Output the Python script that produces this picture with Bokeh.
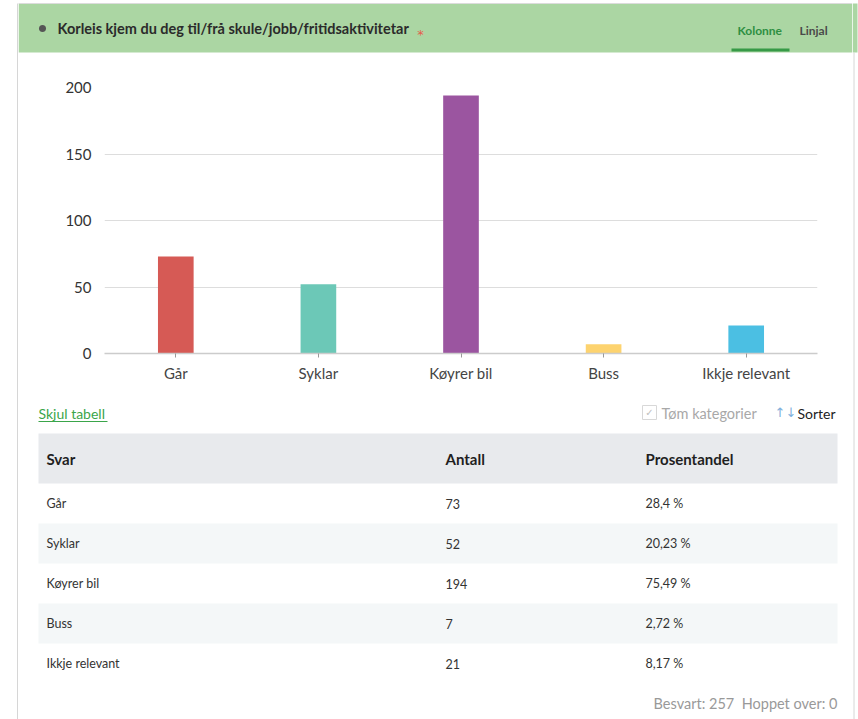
from bokeh.plotting import figure
from bokeh.layouts import row, column
from bokeh.models import Range1d, FactorRange, ColumnDataSource, FixedTicker
from bokeh.core.properties import value
from bokeh.embed import file_html
from bokeh.resources import INLINE

# ---- data ----
title = "Korleis kjem du deg til/frå skule/jobb/fritidsaktivitetar"
categories = ["Går", "Syklar", "Køyrer bil", "Buss", "Ikkje relevant"]
counts = [73, 52, 194, 7, 21]
percent_labels = ["28,4 %", "20,23 %", "75,49 %", "2,72 %", "8,17 %"]
bar_colors = ["#D65A55", "#6CC8B7", "#9B55A0", "#FDD36F", "#4BBFE3"]
y_ticks = [0, 50, 100, 150, 200]
table_headers = ["Svar", "Antall", "Prosentandel"]
answered = 257
skipped = 0

FONT = value("Lato")
GREEN_BG = "#ABD6A3"
BORDER = "#d6d6d6"


def blank(width, height, x_range, y_range):
    p = figure(width=width, height=height, x_range=x_range, y_range=y_range,
               output_backend="svg", toolbar_location=None, min_border=0)
    p.axis.visible = False
    p.grid.visible = False
    p.outline_line_color = None
    p.background_fill_color = "white"
    p.border_fill_color = "white"
    return p


# ---- left border strip ----
strip_l = blank(18, 719, Range1d(0, 18), Range1d(719, 0))
strip_l.segment(x0=[17], y0=[3], x1=[17], y1=[719], line_color=BORDER, line_width=1)

# ---- right border strip ----
strip_r = blank(6, 719, Range1d(852, 858), Range1d(719, 0))
strip_r.quad(left=[852], right=[857], top=[3], bottom=[52], fill_color=GREEN_BG, line_color=None)
strip_r.segment(x0=[853.5], y0=[52], x1=[853.5], y1=[719], line_color=BORDER, line_width=1)

# ---- header ----
hdr = blank(834, 53, Range1d(18, 852), Range1d(53, 0))
hdr.quad(left=[18], right=[852], top=[3], bottom=[52], fill_color=GREEN_BG, line_color=None)
hdr.segment(x0=[18], y0=[3], x1=[852], y1=[3], line_color="#dcdcdc", line_width=1)
hdr.scatter(x=[42], y=[28], size=7, marker="circle", fill_color="#555555", line_color=None)
hdr.text(x=[57], y=[28], text=[title], text_font=FONT, text_font_style="bold",
         text_font_size="14.5px", text_color="#2b2b2b", text_baseline="middle")
hdr.text(x=[420], y=[34], text=["*"], text_font=value("DejaVu Sans"), text_font_size="13px",
         text_color="#E5604D", text_baseline="middle", text_align="center")
hdr.text(x=[737], y=[30], text=["Kolonne"], text_font=FONT, text_font_style="bold",
         text_font_size="12px", text_color="#2E8F42", text_baseline="middle")
hdr.text(x=[799], y=[30], text=["Linjal"], text_font=FONT, text_font_style="bold",
         text_font_size="12px", text_color="#4a4a4a", text_baseline="middle")
hdr.quad(left=[731], right=[789], top=[48], bottom=[51], fill_color="#379A47", line_color=None)

# ---- chart ----
src = ColumnDataSource(dict(cat=categories, val=counts, col=bar_colors))
ch = figure(width=834, height=342, x_range=FactorRange(*categories), y_range=Range1d(0, 200),
            output_backend="svg", toolbar_location=None,
            min_border_left=86, min_border_right=35, min_border_top=34, min_border_bottom=42)
ch.outline_line_color = None
ch.vbar(x="cat", top="val", width=0.25, fill_color="col", line_color=None, source=src)

ch.xgrid.visible = False
ch.ygrid.grid_line_color = "#dddddd"
ch.ygrid.grid_line_width = 1
ch.yaxis.ticker = FixedTicker(ticks=y_ticks)
ch.yaxis.axis_line_color = None
ch.yaxis.major_tick_line_color = None
ch.yaxis.minor_tick_line_color = None
ch.yaxis.major_label_standoff = 7
ch.yaxis.major_label_text_font = "Lato"
ch.yaxis.major_label_text_font_size = "15px"
ch.yaxis.major_label_text_color = "#333333"

ch.xaxis.axis_line_color = "#cccccc"
ch.xaxis.axis_line_width = 1.5
ch.xaxis.major_tick_line_color = "#999999"
ch.xaxis.major_tick_in = 0
ch.xaxis.major_tick_out = 4
ch.xaxis.major_label_standoff = 6
ch.xaxis.major_label_text_font = "Lato"
ch.xaxis.major_label_text_font_size = "15px"
ch.xaxis.major_label_text_color = "#444444"

# ---- table ----
tb = blank(834, 324, Range1d(18, 852), Range1d(719, 395))
tb.text(x=[38], y=[413], text=["Skjul tabell"], text_font=FONT, text_font_size="14px",
        text_color="#3AA54A", text_baseline="middle")
tb.segment(x0=[38], y0=[421], x1=[107], y1=[421], line_color="#3AA54A", line_width=1)

tb.quad(left=[642], right=[656], top=[405], bottom=[419], fill_color="white",
        line_color="#d8d8d8", line_width=1)
tb.text(x=[649], y=[412], text=["✓"], text_font=value("DejaVu Sans"), text_font_size="10px",
        text_color="#c0c0c0", text_baseline="middle", text_align="center")
tb.text(x=[661], y=[413], text=["Tøm kategorier"], text_font=FONT, text_font_size="14.5px",
        text_color="#a8a8a8", text_baseline="middle")
tb.text(x=[785], y=[412], text=["↑↓"], text_font=value("DejaVu Sans"), text_font_size="13px",
        text_color="#7FB0DC", text_baseline="middle", text_align="center")
tb.text(x=[797], y=[413], text=["Sorter"], text_font=FONT, text_font_size="14px",
        text_color="#222222", text_baseline="middle")

tb.quad(left=[38], right=[837], top=[433], bottom=[483], fill_color="#E8EAED", line_color=None)
col_x = [46, 445, 645]
tb.text(x=col_x, y=[458] * 3, text=table_headers, text_font=FONT, text_font_style="bold",
        text_font_size="15px", text_color="#1f1f1f", text_baseline="middle")

row_h = 40
row_top = 483
n = len(categories)
tops = [row_top + i * row_h for i in range(n)]
mids = [t + row_h / 2 for t in tops]
stripe_t = [tops[i] for i in range(n) if i % 2 == 1]
tb.quad(left=[38] * len(stripe_t), right=[837] * len(stripe_t), top=stripe_t,
        bottom=[t + row_h for t in stripe_t], fill_color="#F4F7F8", line_color=None)
tb.text(x=[col_x[0]] * n, y=mids, text=categories, text_font=FONT, text_font_size="12.5px",
        text_color="#333333", text_baseline="middle")
tb.text(x=[col_x[1]] * n, y=mids, text=[str(c) for c in counts], text_font=FONT,
        text_font_size="12.5px", text_color="#333333", text_baseline="middle")
tb.text(x=[col_x[2]] * n, y=mids, text=percent_labels, text_font=FONT, text_font_size="12.5px",
        text_color="#333333", text_baseline="middle")

tb.text(x=[837], y=[703], text=[f"Besvart: {answered}\u00a0\u00a0Hoppet over: {skipped}"],
        text_font=FONT, text_font_size="14.5px", text_color="#999999", text_baseline="middle",
        text_align="right")

layout = row(strip_l, column(hdr, row(ch), tb), strip_r)
open("out.html", "w").write(file_html(layout, INLINE))
